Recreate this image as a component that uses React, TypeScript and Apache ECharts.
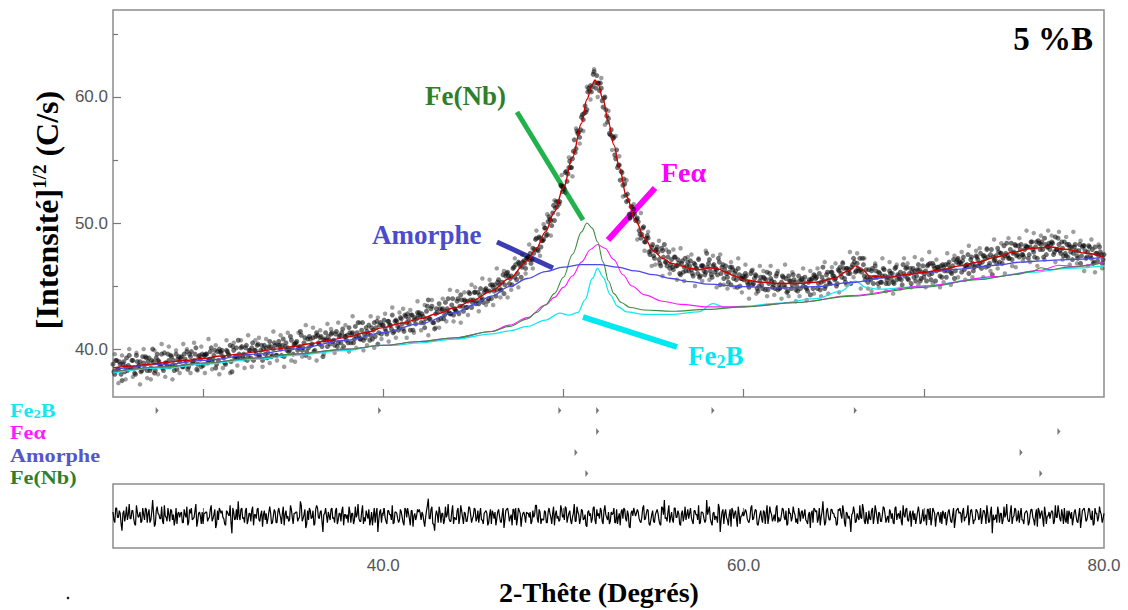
import { useEffect, useRef } from 'react';
import * as echarts from 'echarts';

// 2-theta sampling of the observed pattern (interleaved scans)
const THETA_START = 25;
const THETA_START_B = 25.05;
const THETA_START_C = 25.1;
const THETA_STEP = 0.1;
const THETA_STEP_C = 0.2;

// Observed intensity (sqrt counts), one row per degree (25.0 .. 79.9) then 80.0
const observed: number[] = [
  38.8, 38.0, 39.1, 38.4, 38.8, 37.5, 39.0, 38.6, 38.3, 39.5,
  38.5, 39.1, 38.1, 39.5, 38.6, 39.0, 38.3, 38.9, 39.4, 38.3,
  39.3, 38.5, 40.0, 38.1, 39.3, 39.1, 38.7, 39.6, 38.3, 38.9,
  38.6, 39.1, 39.5, 38.7, 38.3, 39.6, 39.2, 39.0, 39.4, 38.6,
  39.2, 39.8, 38.6, 39.4, 38.9, 39.1, 40.1, 38.8, 39.5, 38.6,
  38.7, 39.5, 39.6, 39.1, 39.8, 39.0, 39.5, 38.5, 39.8, 40.0,
  39.7, 39.4, 38.9, 39.9, 39.6, 40.3, 38.2, 39.9, 39.4, 39.3,
  39.6, 40.1, 39.4, 39.2, 40.3, 39.4, 39.9, 40.1, 39.1, 39.9,
  40.3, 39.5, 39.9, 39.1, 40.3, 40.1, 39.7, 40.6, 39.4, 40.0,
  40.3, 39.5, 40.6, 40.0, 40.3, 39.4, 40.5, 40.1, 39.9, 40.7,
  39.6, 40.4, 40.6, 40.1, 41.4, 39.9, 40.5, 39.5, 40.8, 41.0,
  40.3, 40.9, 39.9, 41.3, 40.5, 40.9, 40.2, 40.7, 41.3, 40.2,
  40.7, 41.2, 40.6, 40.3, 41.4, 40.5, 41.1, 41.3, 40.2, 41.0,
  41.1, 41.7, 40.5, 41.3, 40.8, 41.0, 42.1, 40.8, 41.5, 40.7,
  40.9, 41.4, 41.9, 41.1, 40.8, 42.1, 41.7, 40.4, 41.9, 41.2,
  41.9, 41.6, 41.2, 42.2, 41.9, 42.7, 41.4, 42.3, 41.8, 41.7,
  42.4, 41.6, 42.7, 42.1, 42.4, 41.5, 42.7, 42.3, 42.0, 42.9,
  42.9, 42.1, 42.6, 41.7, 43.0, 43.9, 42.4, 43.4, 42.1, 42.8,
  42.9, 43.6, 42.4, 43.2, 42.7, 43.0, 44.0, 42.8, 43.5, 42.7,
  43.1, 43.8, 42.8, 44.3, 43.4, 43.9, 43.3, 43.8, 44.4, 43.3,
  43.9, 44.5, 43.8, 43.6, 44.8, 44.0, 44.5, 44.8, 43.8, 44.6,
  44.0, 44.9, 45.1, 44.7, 45.5, 44.7, 45.3, 44.4, 45.8, 46.1,
  45.2, 45.8, 46.4, 45.7, 45.5, 46.9, 46.6, 46.5, 47.0, 46.4,
  47.2, 47.1, 46.8, 48.0, 47.9, 48.8, 47.8, 48.8, 48.6, 48.7,
  49.6, 49.1, 50.5, 50.2, 50.8, 50.2, 51.7, 51.7, 51.7, 52.9,
  52.9, 54.0, 53.3, 54.4, 54.4, 55.1, 56.6, 55.9, 57.1, 56.8,
  58.4, 58.2, 59.3, 59.0, 60.7, 60.9, 60.8, 62.0, 60.7, 61.1,
  60.5, 60.7, 59.2, 60.0, 58.5, 58.3, 57.0, 56.9, 56.8, 55.1,
  54.4, 54.6, 54.1, 53.0, 53.1, 51.7, 51.8, 50.4, 51.3, 51.1,
  50.2, 50.4, 49.4, 48.8, 49.6, 48.5, 48.8, 48.8, 47.5, 48.1,
  47.4, 47.8, 48.1, 47.1, 46.6, 47.8, 48.3, 46.9, 47.3, 46.4,
  47.1, 46.3, 47.3, 46.6, 46.8, 45.9, 47.0, 46.5, 46.2, 46.9,
  46.6, 46.3, 45.8, 46.7, 46.4, 47.1, 45.8, 46.6, 46.2, 46.1,
  46.5, 47.1, 45.9, 46.6, 46.1, 46.3, 47.2, 45.1, 46.5, 45.6,
  46.6, 45.7, 46.1, 45.1, 46.3, 46.0, 45.5, 46.4, 45.0, 45.6,
  45.5, 46.0, 45.3, 44.9, 46.0, 45.1, 45.6, 45.8, 44.6, 45.4,
  45.1, 45.7, 44.7, 46.1, 45.2, 45.6, 44.9, 45.3, 45.8, 44.7,
  44.8, 45.3, 45.7, 44.9, 44.5, 45.8, 45.4, 45.1, 45.5, 44.7,
  44.6, 45.4, 45.5, 45.0, 45.7, 44.8, 45.3, 44.3, 45.6, 45.9,
  45.6, 44.8, 46.0, 45.3, 46.5, 44.8, 45.9, 45.5, 45.2, 46.1,
  45.8, 45.6, 45.2, 46.2, 46.0, 46.8, 45.6, 46.4, 46.0, 46.0,
  46.5, 47.2, 46.1, 46.8, 46.2, 46.3, 47.2, 45.8, 46.3, 45.3,
  45.6, 46.2, 45.2, 46.6, 45.7, 46.1, 45.3, 45.8, 46.3, 45.2,
  45.7, 46.2, 45.5, 45.3, 46.4, 45.5, 45.8, 46.1, 45.1, 46.0,
  46.4, 45.6, 46.0, 45.2, 46.4, 46.2, 45.8, 46.7, 45.4, 46.1,
  45.7, 46.2, 46.6, 45.9, 45.5, 46.8, 46.4, 46.2, 46.5, 45.8,
  45.7, 46.5, 46.7, 46.2, 46.9, 46.1, 46.6, 45.6, 46.9, 47.2,
  46.9, 46.1, 47.3, 46.6, 46.7, 46.0, 47.1, 46.8, 46.5, 47.4,
  47.1, 46.8, 46.4, 47.4, 47.2, 47.9, 46.6, 47.5, 45.9, 47.0,
  47.4, 48.0, 46.9, 47.6, 47.2, 47.4, 48.4, 47.2, 47.9, 47.1,
  47.7, 48.2, 47.5, 47.3, 48.3, 47.5, 47.9, 48.1, 47.2, 48.1,
  48.5, 47.7, 48.1, 47.2, 48.4, 48.3, 47.9, 48.8, 47.5, 48.1,
  47.9, 48.5, 47.5, 48.9, 47.9, 48.3, 47.6, 48.0, 48.5, 47.4,
  47.3, 48.1, 48.1, 47.6, 48.3, 47.4, 47.8, 46.8, 48.1, 48.2,
  47.2, 47.7, 48.1, 47.2, 46.8, 48.1, 47.6, 47.4, 47.7, 46.8,
  47.5,
];

// Second observed scan at 25.05 .. 79.95
const observedB: number[] = [
  38.2, 39.1, 38.4, 39.0, 38.0, 38.8, 38.2, 39.3, 38.7, 38.5,
  39.1, 38.5, 38.0, 39.0, 38.7, 38.2, 39.4, 38.5, 39.3, 39.0,
  38.3, 39.1, 39.0, 38.3, 39.6, 39.0, 38.7, 38.5, 39.7, 38.9,
  39.6, 38.6, 39.4, 39.1, 38.7, 38.4, 39.4, 39.3, 38.6, 39.6,
  39.0, 38.4, 39.6, 39.8, 39.0, 39.6, 38.4, 39.4, 39.2, 39.6,
  39.5, 39.6, 38.9, 39.2, 40.1, 39.2, 39.9, 38.8, 39.1, 39.8,
  39.9, 39.3, 38.8, 39.8, 39.5, 39.0, 40.2, 39.3, 40.1, 40.7,
  39.3, 40.2, 39.6, 40.1, 39.1, 39.9, 39.3, 40.5, 39.9, 39.6,
  40.4, 39.4, 40.3, 40.0, 39.6, 39.3, 40.2, 40.2, 39.5, 40.5,
  39.5, 40.3, 40.3, 39.5, 40.8, 40.2, 39.9, 39.8, 41.0, 40.1,
  40.4, 40.5, 39.9, 40.2, 41.1, 40.1, 40.9, 39.8, 40.1, 40.8,
  40.4, 39.8, 41.0, 41.1, 40.4, 41.0, 39.4, 40.8, 40.7, 41.0,
  40.4, 41.3, 40.7, 41.2, 40.2, 41.0, 40.5, 41.6, 41.0, 40.7,
  40.5, 41.3, 41.2, 40.5, 41.8, 41.3, 41.0, 40.8, 42.1, 41.2,
  41.7, 41.2, 40.7, 41.7, 41.5, 41.0, 42.2, 41.3, 42.1, 41.9,
  42.3, 41.4, 42.2, 41.9, 41.6, 41.3, 42.2, 42.2, 41.5, 42.5,
  42.0, 41.4, 42.6, 42.8, 42.0, 42.7, 41.5, 42.5, 42.4, 42.7,
  42.6, 42.8, 42.1, 42.4, 43.4, 42.4, 43.2, 42.1, 41.6, 43.2,
  42.3, 43.2, 43.1, 42.4, 43.7, 43.2, 42.9, 42.8, 44.0, 43.2,
  43.0, 44.0, 43.4, 43.9, 43.0, 43.8, 43.3, 44.5, 43.9, 43.7,
  44.5, 43.6, 44.5, 44.3, 43.9, 43.7, 44.7, 44.6, 44.0, 45.1,
  45.1, 44.6, 44.2, 45.3, 45.1, 44.7, 45.9, 45.1, 46.0, 45.8,
  45.6, 45.1, 46.5, 46.7, 46.0, 46.8, 45.7, 46.9, 46.8, 47.2,
  47.3, 47.6, 47.1, 47.6, 48.7, 47.9, 48.9, 48.1, 48.6, 49.6,
  49.0, 50.1, 50.3, 49.8, 51.4, 51.2, 51.3, 51.5, 53.0, 52.5,
  52.7, 54.1, 53.9, 54.9, 54.4, 55.7, 55.6, 57.3, 57.2, 57.4,
  58.6, 58.7, 58.8, 60.4, 60.5, 60.4, 61.8, 61.1, 61.7, 61.1,
  61.1, 59.7, 59.9, 59.0, 58.0, 57.1, 57.4, 56.7, 55.4, 55.8,
  54.6, 53.4, 54.0, 53.5, 52.2, 52.3, 50.7, 51.3, 50.7, 50.7,
  50.3, 50.1, 49.1, 49.1, 49.7, 48.5, 49.0, 47.7, 47.8, 48.3,
  47.2, 47.9, 47.7, 46.8, 48.0, 47.3, 46.9, 46.6, 47.7, 46.7,
  46.5, 47.3, 46.6, 47.1, 46.0, 46.8, 46.1, 47.2, 46.6, 46.2,
  47.0, 46.0, 46.8, 46.4, 46.0, 45.7, 46.6, 46.6, 45.9, 47.6,
  46.8, 46.2, 45.7, 46.7, 46.4, 45.9, 46.9, 46.0, 46.7, 46.3,
  46.0, 45.3, 46.5, 46.5, 45.6, 46.2, 44.9, 45.9, 45.6, 45.8,
  45.7, 45.8, 45.1, 45.3, 46.2, 45.2, 45.9, 44.8, 45.0, 45.7,
  44.8, 45.6, 45.5, 44.7, 46.0, 45.4, 45.1, 44.8, 46.0, 45.1,
  44.9, 45.8, 45.1, 45.6, 44.6, 45.4, 44.8, 45.9, 45.3, 45.0,
  45.8, 44.8, 45.6, 45.3, 44.9, 44.6, 45.5, 45.5, 44.8, 45.8,
  45.7, 45.2, 44.7, 45.7, 45.4, 45.0, 46.1, 45.2, 46.1, 45.8,
  45.5, 45.0, 46.3, 46.5, 45.7, 46.4, 45.3, 46.4, 46.3, 45.2,
  46.7, 46.9, 46.2, 46.4, 47.2, 46.1, 46.7, 45.5, 45.7, 46.3,
  45.5, 46.4, 45.7, 46.2, 45.2, 46.0, 45.3, 46.4, 45.8, 45.5,
  45.2, 46.0, 46.0, 45.2, 46.5, 45.9, 45.6, 45.5, 46.7, 45.8,
  46.5, 45.5, 46.4, 46.1, 45.7, 45.4, 46.3, 46.3, 45.6, 46.6,
  46.0, 45.4, 46.7, 46.8, 46.0, 46.6, 45.4, 46.5, 46.3, 46.6,
  46.7, 46.2, 45.7, 46.7, 46.4, 46.0, 47.1, 46.2, 47.1, 46.8,
  46.8, 47.0, 46.3, 46.6, 47.5, 46.6, 47.3, 46.2, 46.6, 47.3,
  46.6, 47.6, 46.9, 47.4, 46.5, 47.3, 46.8, 47.9, 47.3, 47.1,
  46.8, 47.7, 47.6, 46.8, 48.2, 47.6, 47.4, 47.2, 48.4, 47.6,
  48.3, 47.4, 48.2, 47.9, 47.5, 47.3, 48.2, 48.1, 47.5, 48.5,
  47.9, 47.3, 48.5, 48.6, 47.9, 48.5, 47.3, 48.3, 48.1, 48.4,
  48.3, 48.4, 47.7, 47.9, 48.8, 47.8, 48.5, 47.4, 47.6, 48.3,
  48.3, 47.7, 47.1, 48.1, 47.8, 47.2, 48.3, 47.4, 48.2, 47.8,
  47.3, 48.2, 47.4, 47.9, 46.9, 47.6, 47.0, 48.1, 47.5, 47.1,
];

// Third observed scan (outer scatter) at 25.1 .. 79.9, 0.2° step, one row per 2°
const observedC: number[] = [
  39.6, 37.3, 39.5, 37.6, 40.0, 37.8, 39.7, 37.2, 40.0, 37.7,
  37.6, 39.9, 38.0, 40.4, 37.8, 40.2, 37.6, 39.9, 38.1, 40.4,
  40.0, 38.1, 40.5, 38.3, 40.2, 38.1, 40.8, 38.4, 40.3, 38.0,
  38.5, 40.7, 38.1, 40.5, 38.7, 40.7, 38.5, 41.1, 38.6, 40.7,
  40.9, 38.6, 40.8, 38.9, 41.4, 39.1, 41.1, 38.6, 41.3, 39.1,
  39.0, 41.3, 39.4, 41.9, 39.3, 41.7, 39.1, 41.5, 39.6, 42.0,
  41.6, 39.7, 42.1, 40.0, 41.9, 39.8, 42.6, 40.1, 42.1, 39.9,
  40.3, 42.6, 40.1, 42.5, 40.8, 42.8, 40.6, 43.3, 40.9, 42.9,
  43.2, 40.9, 43.1, 41.3, 43.8, 41.5, 43.5, 41.1, 43.9, 41.7,
  41.7, 44.0, 42.2, 44.7, 42.2, 44.6, 42.1, 44.5, 42.7, 45.1,
  44.9, 43.0, 45.6, 43.5, 45.5, 43.5, 46.4, 44.1, 46.2, 44.1,
  44.7, 47.2, 44.9, 47.5, 46.0, 48.3, 46.4, 49.4, 47.4, 49.9,
  50.7, 49.0, 51.8, 50.7, 53.8, 52.4, 55.2, 53.7, 57.5, 56.3,
  57.3, 60.8, 59.8, 62.2, 60.0, 61.5, 57.8, 58.9, 55.8, 56.9,
  55.3, 52.1, 53.4, 50.4, 51.5, 48.7, 50.8, 47.8, 49.3, 46.6,
  46.7, 48.6, 45.8, 47.9, 46.0, 47.9, 45.5, 48.0, 45.4, 47.3,
  47.5, 45.0, 47.2, 45.4, 47.8, 45.5, 47.4, 44.9, 47.5, 45.1,
  44.8, 46.9, 44.9, 47.2, 44.5, 46.7, 44.0, 46.3, 44.4, 46.6,
  46.2, 44.2, 46.6, 44.3, 46.2, 44.0, 46.7, 44.2, 46.1, 43.8,
  44.2, 46.4, 43.9, 46.2, 44.4, 46.4, 44.2, 46.9, 44.4, 46.5,
  46.8, 44.5, 46.9, 45.1, 47.7, 45.7, 47.6, 44.8, 47.2, 44.8,
  44.6, 46.8, 44.9, 47.2, 44.6, 46.9, 44.4, 46.7, 44.8, 47.2,
  46.8, 44.9, 47.3, 45.1, 47.1, 44.9, 47.7, 45.2, 47.1, 44.9,
  45.3, 47.6, 45.1, 47.4, 45.7, 47.7, 45.5, 48.2, 45.7, 47.8,
  48.0, 45.7, 48.0, 46.2, 48.7, 46.4, 48.4, 46.0, 48.8, 46.6,
  46.5, 48.8, 47.0, 49.4, 46.9, 49.2, 46.6, 49.0, 47.1, 49.4,
  49.0, 46.9, 49.3, 47.1, 48.9, 46.7, 49.3, 46.8, 48.6, 46.2,
  46.6, 48.7, 46.1, 48.3, 46.4,
];

// Difference curve (observed - calculated) for the first scan
const residual: number[] = [
  0.3, -0.5, 0.6, -0.1, 0.2, -1.1, 0.4, 0.0, -0.3, 0.9,
  -0.2, 0.4, -0.6, 0.8, -0.1, 0.3, -0.4, 0.1, 0.6, -0.5,
  0.5, -0.3, 1.2, -0.8, 0.4, 0.2, -0.2, 0.7, -0.6, 0.0,
  -0.4, 0.1, 0.5, -0.3, -0.7, 0.6, 0.2, -0.1, 0.3, -0.5,
  0.1, 0.7, -0.5, 0.2, -0.3, -0.1, 0.9, -0.4, 0.3, -0.6,
  -0.6, 0.2, 0.3, -0.2, 0.5, -0.4, 0.1, -0.9, 0.4, 0.6,
  0.2, -0.1, -0.6, 0.4, 0.1, 0.8, -1.3, 0.3, -0.2, -0.3,
  0.0, 0.5, -0.2, -0.5, 0.6, -0.3, 0.2, 0.4, -0.7, 0.1,
  0.5, -0.3, 0.1, -0.8, 0.4, 0.2, -0.2, 0.7, -0.6, 0.0,
  0.3, -0.5, 0.6, -0.1, 0.2, -0.7, 0.4, 0.0, -0.3, 0.5,
  -0.6, 0.2, 0.3, -0.2, 1.1, -0.4, 0.1, -0.9, 0.4, 0.6,
  -0.2, 0.4, -0.6, 0.8, -0.1, 0.3, -0.4, 0.1, 0.6, -0.5,
  0.0, 0.5, -0.2, -0.5, 0.6, -0.3, 0.2, 0.4, -0.7, 0.1,
  0.1, 0.7, -0.5, 0.2, -0.3, -0.1, 0.9, -0.4, 0.3, -0.6,
  -0.4, 0.1, 0.5, -0.3, -0.7, 0.6, 0.2, -1.2, 0.3, -0.5,
  0.2, -0.1, -0.6, 0.4, 0.1, 0.8, -0.5, 0.3, -0.2, -0.3,
  0.3, -0.5, 0.6, -0.1, 0.2, -0.7, 0.4, 0.0, -0.3, 0.5,
  0.5, -0.3, 0.1, -0.8, 0.4, 1.3, -0.2, 0.7, -0.6, 0.0,
  0.1, 0.7, -0.5, 0.2, -0.3, -0.1, 0.9, -0.4, 0.3, -0.6,
  -0.2, 0.4, -0.6, 0.8, -0.1, 0.3, -0.4, 0.1, 0.6, -0.5,
  0.0, 0.5, -0.2, -0.5, 0.6, -0.3, 0.2, 0.4, -0.7, 0.1,
  -0.6, 0.2, 0.3, -0.2, 0.5, -0.4, 0.1, -0.9, 0.4, 0.6,
  -0.4, 0.1, 0.5, -0.3, -0.7, 0.6, 0.2, -0.1, 0.3, -0.5,
  0.2, -0.1, -0.6, 0.4, 0.1, 0.8, -0.5, 0.3, -0.2, -0.3,
  0.3, -0.5, 0.6, -0.1, 0.2, -0.7, 0.4, 0.0, -0.3, 0.5,
  0.1, 0.7, -0.5, 0.2, -0.3, -0.1, 0.9, -0.4, 0.3, -0.6,
  0.5, -0.3, 0.1, -0.8, 0.4, 0.2, -0.2, 0.7, -0.6, 0.0,
  -0.2, 0.4, -0.6, 0.8, -0.1, 0.3, -0.4, 0.1, 0.6, -0.5,
  -0.6, 0.2, 0.3, -0.2, 0.5, -0.4, 0.1, -0.9, 0.4, 0.6,
  0.0, 0.5, -0.2, -0.5, 0.6, -0.3, 0.2, 0.4, -0.7, 0.1,
  -0.4, 0.1, 0.5, -0.3, -0.7, 0.6, 1.2, -0.1, 0.3, -0.5,
  0.3, -0.5, 0.6, -0.1, 0.2, -0.7, 0.4, 0.0, -0.3, 0.5,
  0.2, -0.1, -0.6, 0.4, 0.1, 0.8, -0.5, 0.3, -0.2, -0.3,
  0.1, 0.7, -0.5, 0.2, -0.3, -0.1, 0.9, -1.2, 0.3, -0.6,
  0.5, -0.3, 0.1, -0.8, 0.4, 0.2, -0.2, 0.7, -0.6, 0.0,
  0.0, 0.5, -0.2, -0.5, 0.6, -0.3, 0.2, 0.4, -0.7, 0.1,
  -0.2, 0.4, -0.6, 0.8, -0.1, 0.3, -0.4, 0.1, 0.6, -0.5,
  -0.4, 0.1, 0.5, -0.3, -0.7, 0.6, 0.2, -0.1, 0.3, -0.5,
  -0.6, 0.2, 0.3, -0.2, 0.5, -0.4, 0.1, -0.9, 0.4, 0.6,
  0.3, -0.5, 0.6, -0.1, 1.1, -0.7, 0.4, 0.0, -0.3, 0.5,
  0.2, -0.1, -0.6, 0.4, 0.1, 0.8, -0.5, 0.3, -0.2, -0.3,
  0.1, 0.7, -0.5, 0.2, -0.3, -0.1, 0.9, -0.4, 0.3, -0.6,
  -0.2, 0.4, -0.6, 0.8, -0.1, 0.3, -0.4, 0.1, 0.6, -0.5,
  0.0, 0.5, -0.2, -0.5, 0.6, -0.3, 0.2, 0.4, -0.7, 0.1,
  0.5, -0.3, 0.1, -0.8, 0.4, 0.2, -0.2, 0.7, -0.6, 0.0,
  -0.4, 0.1, 0.5, -0.3, -0.7, 0.6, 0.2, -0.1, 0.3, -0.5,
  -0.6, 0.2, 0.3, -0.2, 0.5, -0.4, 0.1, -0.9, 0.4, 0.6,
  0.3, -0.5, 0.6, -0.1, 0.2, -0.7, 0.4, 0.0, -0.3, 0.5,
  0.2, -0.1, -0.6, 0.4, 0.1, 0.8, -0.5, 0.3, -1.3, -0.3,
  0.1, 0.7, -0.5, 0.2, -0.3, -0.1, 0.9, -0.4, 0.3, -0.6,
  0.0, 0.5, -0.2, -0.5, 0.6, -0.3, 0.2, 0.4, -0.7, 0.1,
  0.5, -0.3, 0.1, -0.8, 0.4, 0.2, -0.2, 0.7, -0.6, 0.0,
  -0.2, 0.4, -0.6, 0.8, -0.1, 0.3, -0.4, 0.1, 0.6, -0.5,
  -0.6, 0.2, 0.3, -0.2, 0.5, -0.4, 0.1, -0.9, 0.4, 0.6,
  -0.4, 0.1, 0.5, -0.3, -0.7, 0.6, 0.2, -0.1, 0.3, -0.5,
  0.2,
];

// Difference curve for the second scan (25.05 .. 79.95)
const residualB: number[] = [
  -0.3, 0.6, -0.1, 0.4, -0.6, 0.2, -0.4, 0.7, 0.1, -0.2,
  0.4, -0.2, -0.7, 0.3, 0.0, -0.5, 0.6, -0.3, 0.5, 0.2,
  -0.5, 0.3, 0.2, -0.6, 0.7, 0.1, -0.2, -0.4, 0.8, -0.1,
  0.6, -0.4, 0.4, 0.1, -0.3, -0.6, 0.3, 0.2, -0.5, 0.5,
  -0.1, -0.7, 0.5, 0.6, -0.2, 0.4, -0.8, 0.2, 0.0, 0.3,
  0.2, 0.3, -0.4, -0.1, 0.8, -0.2, 0.5, -0.6, -0.3, 0.4,
  0.4, -0.2, -0.7, 0.3, 0.0, -0.5, 0.6, -0.3, 0.5, 1.1,
  -0.3, 0.6, -0.1, 0.4, -0.6, 0.2, -0.4, 0.7, 0.1, -0.2,
  0.6, -0.4, 0.4, 0.1, -0.3, -0.6, 0.3, 0.2, -0.5, 0.5,
  -0.5, 0.3, 0.2, -0.6, 0.7, 0.1, -0.2, -0.4, 0.8, -0.1,
  0.2, 0.3, -0.4, -0.1, 0.8, -0.2, 0.5, -0.6, -0.3, 0.4,
  -0.1, -0.7, 0.5, 0.6, -0.2, 0.4, -1.2, 0.2, 0.0, 0.3,
  -0.3, 0.6, -0.1, 0.4, -0.6, 0.2, -0.4, 0.7, 0.1, -0.2,
  -0.5, 0.3, 0.2, -0.6, 0.7, 0.1, -0.2, -0.4, 0.8, -0.1,
  0.4, -0.2, -0.7, 0.3, 0.0, -0.5, 0.6, -0.3, 0.5, 0.2,
  0.6, -0.4, 0.4, 0.1, -0.3, -0.6, 0.3, 0.2, -0.5, 0.5,
  -0.1, -0.7, 0.5, 0.6, -0.2, 0.4, -0.8, 0.2, 0.0, 0.3,
  0.2, 0.3, -0.4, -0.1, 0.8, -0.2, 0.5, -0.6, -1.1, 0.4,
  -0.5, 0.3, 0.2, -0.6, 0.7, 0.1, -0.2, -0.4, 0.8, -0.1,
  -0.3, 0.6, -0.1, 0.4, -0.6, 0.2, -0.4, 0.7, 0.1, -0.2,
  0.6, -0.4, 0.4, 0.1, -0.3, -0.6, 0.3, 0.2, -0.5, 0.5,
  0.4, -0.2, -0.7, 0.3, 0.0, -0.5, 0.6, -0.3, 0.5, 0.2,
  -0.1, -0.7, 0.5, 0.6, -0.2, 0.4, -0.8, 0.2, 0.0, 0.3,
  0.2, 0.3, -0.4, -0.1, 0.8, -0.2, 0.5, -0.6, -0.3, 0.4,
  -0.5, 0.3, 0.2, -0.6, 0.7, 0.1, -0.2, -0.4, 0.8, -0.1,
  -0.3, 0.6, -0.1, 0.4, -0.6, 0.2, -0.4, 0.7, 0.1, -0.2,
  0.4, -0.2, -0.7, 0.3, 0.0, -0.5, 0.6, -0.3, 0.5, 0.2,
  0.6, -0.4, 0.4, 0.1, -0.3, -0.6, 0.3, 0.2, -0.5, 0.5,
  -0.1, -0.7, 0.5, 0.6, -0.2, 0.4, -0.8, 0.2, 0.0, 0.3,
  0.2, 0.3, -0.4, -0.1, 0.8, -0.2, 0.5, -0.6, -0.3, 0.4,
  -0.5, 0.3, 0.2, -0.6, 0.7, 0.1, -0.2, -0.4, 0.8, -0.1,
  -0.3, 0.6, -0.1, 0.4, -0.6, 0.2, -0.4, 0.7, 0.1, -0.2,
  0.6, -0.4, 0.4, 0.1, -0.3, -0.6, 0.3, 0.2, -0.5, 1.2,
  0.4, -0.2, -0.7, 0.3, 0.0, -0.5, 0.6, -0.3, 0.5, 0.2,
  -0.1, -0.7, 0.5, 0.6, -0.2, 0.4, -0.8, 0.2, 0.0, 0.3,
  0.2, 0.3, -0.4, -0.1, 0.8, -0.2, 0.5, -0.6, -0.3, 0.4,
  -0.5, 0.3, 0.2, -0.6, 0.7, 0.1, -0.2, -0.4, 0.8, -0.1,
  -0.3, 0.6, -0.1, 0.4, -0.6, 0.2, -0.4, 0.7, 0.1, -0.2,
  0.6, -0.4, 0.4, 0.1, -0.3, -0.6, 0.3, 0.2, -0.5, 0.5,
  0.4, -0.2, -0.7, 0.3, 0.0, -0.5, 0.6, -0.3, 0.5, 0.2,
  -0.1, -0.7, 0.5, 0.6, -0.2, 0.4, -0.8, 0.2, 0.0, -1.2,
  0.2, 0.3, -0.4, -0.1, 0.8, -0.2, 0.5, -0.6, -0.3, 0.4,
  -0.3, 0.6, -0.1, 0.4, -0.6, 0.2, -0.4, 0.7, 0.1, -0.2,
  -0.5, 0.3, 0.2, -0.6, 0.7, 0.1, -0.2, -0.4, 0.8, -0.1,
  0.6, -0.4, 0.4, 0.1, -0.3, -0.6, 0.3, 0.2, -0.5, 0.5,
  -0.1, -0.7, 0.5, 0.6, -0.2, 0.4, -0.8, 0.2, 0.0, 0.3,
  0.4, -0.2, -0.7, 0.3, 0.0, -0.5, 0.6, -0.3, 0.5, 0.2,
  0.2, 0.3, -0.4, -0.1, 0.8, -0.2, 0.5, -0.6, -0.3, 0.4,
  -0.3, 0.6, -0.1, 0.4, -0.6, 0.2, -0.4, 0.7, 0.1, -0.2,
  -0.5, 0.3, 0.2, -0.6, 0.7, 0.1, -0.2, -0.4, 0.8, -0.1,
  0.6, -0.4, 0.4, 0.1, -0.3, -0.6, 0.3, 0.2, -0.5, 0.5,
  -0.1, -0.7, 0.5, 0.6, -0.2, 0.4, -0.8, 0.2, 0.0, 0.3,
  0.2, 0.3, -0.4, -0.1, 0.8, -0.2, 0.5, -0.6, -0.3, 0.4,
  0.4, -0.2, -0.7, 0.3, 0.0, -0.5, 0.6, -0.3, 0.5, 0.2,
  -0.3, 0.6, -0.1, 0.4, -0.6, 0.2, -0.4, 0.7, 0.1, -0.2,
];

// Calculated profile (red) and phase contributions, [2θ, intensity]
const calcCurve: [number, number][] = [
  [25, 38.5], [26, 38.65], [27, 38.8], [28, 38.95], [29, 39.1], [30, 39.25], [31, 39.45], [32, 39.6],
  [33, 39.8], [34, 40.0], [35, 40.2], [36, 40.45], [37, 40.7], [38, 40.95], [39, 41.3], [40, 41.7],
  [41, 42.05], [42, 42.4], [43, 42.8], [44, 43.3], [45, 43.9], [46, 44.6], [47, 45.6], [48, 47.0],
  [48.5, 48.0], [49, 49.3], [49.5, 50.9], [50, 52.8], [50.5, 55.2], [51, 57.9], [51.3, 59.8],
  [51.6, 61.0], [51.75, 61.35], [51.9, 61.1], [52.2, 59.8], [52.5, 58.0], [52.8, 56.2], [53.1, 54.4],
  [53.5, 52.1], [54, 50.2], [54.5, 48.8], [55, 47.8], [55.5, 47.2], [56, 46.8], [56.5, 46.6],
  [57, 46.4], [57.5, 46.3], [58.1, 46.45], [58.6, 46.35], [59, 46.1], [59.5, 45.8], [60, 45.5],
  [61, 45.3], [62, 45.2], [63, 45.2], [64, 45.3], [65, 45.6], [65.8, 46.2], [66.2, 46.6], [66.6, 46.3],
  [67, 45.8], [68, 45.7], [69, 45.9], [70, 46.1], [71, 46.3], [72, 46.6], [73, 46.9], [74, 47.3],
  [75, 47.7], [76, 48.0], [77, 48.1], [78, 47.9], [79, 47.6], [80, 47.3],
];

const amorpheCurve: [number, number][] = [
  [25, 38.35], [28, 38.8], [30, 39.1], [33, 39.6], [35, 40.0], [38, 40.7], [40, 41.3], [42, 42.0],
  [44, 42.9], [45, 43.5], [46, 44.2], [47, 44.95], [48, 45.6], [49, 46.15], [50, 46.5], [51, 46.7],
  [52, 46.7], [53, 46.5], [54, 46.2], [55, 45.9], [56, 45.6], [57, 45.35], [58, 45.15], [60, 44.95],
  [62, 44.85], [64, 44.95], [66, 45.3], [68, 45.7], [70, 46.05], [72, 46.35], [74, 46.65],
  [75.4, 46.9], [76.5, 47.0], [78, 47.1], [80, 47.25],
];

const feNbCurve: [number, number][] = [
  [25, 38.2], [28, 38.6], [30, 38.9], [33, 39.3], [35, 39.6], [38, 40.0], [40, 40.3], [42, 40.6],
  [44, 40.9], [46, 41.4], [47, 41.8], [48, 42.4], [48.5, 42.9], [49, 43.5], [49.5, 44.4], [50, 45.7],
  [50.5, 47.5], [51, 49.3], [51.3, 50.0], [51.6, 49.6], [51.9, 48.5], [52.2, 46.9], [52.5, 45.4],
  [52.8, 44.4], [53.2, 43.7], [53.7, 43.3], [54.5, 43.1], [56, 43.0], [58, 43.15], [60, 43.35],
  [63, 43.7], [66, 44.2], [70, 44.9], [73, 45.5], [75, 45.9], [76, 46.15], [76.5, 46.45], [77, 46.3],
  [78, 46.5], [80, 46.85],
];

const feAlphaCurve: [number, number][] = [
  [25, 38.2], [28, 38.6], [30, 38.9], [33, 39.3], [35, 39.6], [38, 40.0], [40, 40.3], [42, 40.6],
  [44, 40.9], [46, 41.4], [47, 41.9], [48, 42.5], [49, 43.5], [49.5, 44.1], [50, 44.9], [50.5, 45.8],
  [51, 46.9], [51.5, 47.9], [51.9, 48.3], [52.3, 48.0], [52.8, 47.1], [53.3, 45.9], [53.8, 45.0],
  [54.5, 44.3], [55.5, 43.8], [56.5, 43.55], [58, 43.35], [60, 43.35], [63, 43.7], [66, 44.25],
  [70, 45.0], [74, 45.75], [76.5, 46.25], [77.5, 46.65], [78.3, 46.55], [80, 46.9],
];

const fe2bCurve: [number, number][] = [
  [25, 38.1], [27.45, 38.5], [28, 38.5], [30, 38.8], [33, 39.2], [35, 39.5], [38, 39.9], [39.8, 40.3],
  [40.5, 40.3], [42, 40.5], [44, 40.8], [46, 41.2], [47, 41.45], [48, 41.8], [49, 42.3], [49.8, 42.85],
  [50.3, 42.7], [50.8, 42.9], [51.2, 43.9], [51.6, 45.6], [51.9, 46.4], [52.2, 45.7], [52.6, 44.3],
  [53, 43.4], [53.5, 42.95], [54.5, 42.75], [56, 42.75], [57.5, 42.95], [58.3, 43.6], [59, 43.3],
  [60, 43.4], [62, 43.65], [64, 44.0], [65.4, 44.6], [66.2, 45.4], [66.8, 44.9], [67.5, 44.75],
  [70, 45.0], [73, 45.55], [76, 46.1], [78, 46.4], [80, 46.6],
];

// Bragg reflection positions (2θ) per phase
const phaseRows = ['Fe(Nb)', 'Amorphe', 'Feα', 'Fe2B'];
const reflFe2B = [27.45, 39.8, 49.8, 51.9, 58.3, 66.2];
const reflFeAlpha = [51.9, 77.5];
const reflAmorphe = [50.7, 75.4];
const reflFeNb = [51.3, 76.5];

// Axis ticks / labels
const xTickValues = [30, 40, 50, 60, 70];
const xLabelValues = [40, 60, 80];
const yMajorValues = [40, 50, 60];
const yMinorValues = [45, 55, 65];

const SERIF = '"Liberation Serif", "Times New Roman", serif';
const SANS = '"Liberation Sans", Arial, sans-serif';

const C_CYAN = '#14e8ee';
const C_MAG = '#ff1aff';
const C_BLUE = '#4b4bd0';
const C_GREEN = '#2f7f2a';

export default function App() {
  const ref = useRef<HTMLDivElement>(null);

  useEffect(() => {
    if (!ref.current) return;
    const chart = echarts.init(ref.current, undefined, { renderer: 'svg' });
    const at = (start: number, step: number, i: number) => Math.round((start + i * step) * 100) / 100;
    const obsPairs = [
      ...observed.map((v, i) => [at(THETA_START, THETA_STEP, i), v]),
      ...observedB.map((v, i) => [at(THETA_START_B, THETA_STEP, i), v]),
    ];
    const obsOuterPairs = observedC.map((v, i) => [at(THETA_START_C, THETA_STEP_C, i), v]);
    const resPairs = [
      ...residual.map((v, i) => [at(THETA_START, THETA_STEP, i), v]),
      ...residualB.map((v, i) => [at(THETA_START_B, THETA_STEP, i), v]),
    ].sort((a, b) => a[0] - b[0]);
    const refl = (xs: number[], row: string) => xs.map((x) => [x, row]);
    const tickStyle = { color: '#777', width: 1.2 };
    const lineSeries = (data: [number, number][], color: string, width: number, z: number) => ({
      type: 'line',
      xAxisIndex: 0,
      yAxisIndex: 0,
      data,
      smooth: 0.35,
      smoothMonotone: 'x',
      showSymbol: false,
      symbol: 'none',
      silent: true,
      z,
      lineStyle: { color, width },
    });
    const phaseLabel = (text: string, y: number, fill: string) => ({
      type: 'text', x: 10, y, scaleX: 1.14, silent: true,
      style: { text, font: `bold 19.5px ${SERIF}`, fill, textVerticalAlign: 'middle' },
    });

    chart.setOption({
      animation: false,
      backgroundColor: '#ffffff',
      grid: [
        { left: 113, top: 10, width: 991, height: 387, show: true, borderColor: '#8c8c8c', borderWidth: 1.5, backgroundColor: 'transparent' },
        { left: 113, top: 400, width: 991, height: 84 },
        { left: 113, top: 484, width: 991, height: 64, show: true, borderColor: '#8c8c8c', borderWidth: 1.5, backgroundColor: 'transparent' },
      ],
      xAxis: [
        {
          gridIndex: 0, type: 'value', min: 25, max: 80,
          axisLine: { show: false }, splitLine: { show: false },
          axisTick: { show: true, inside: true, length: 8, customValues: xTickValues, lineStyle: tickStyle },
          axisLabel: { show: false },
        },
        { gridIndex: 1, type: 'value', min: 25, max: 80, show: false },
        {
          gridIndex: 2, type: 'value', min: 25, max: 80,
          axisLine: { show: false }, splitLine: { show: false },
          axisTick: { show: true, inside: true, length: 8, customValues: xTickValues, lineStyle: tickStyle },
          axisLabel: {
            customValues: xLabelValues, showMaxLabel: true, showMinLabel: true,
            formatter: (v: number) => v.toFixed(1), fontSize: 17, fontFamily: SANS, color: '#555', margin: 9,
          },
        },
      ],
      yAxis: [
        {
          gridIndex: 0, type: 'value', position: 'left', min: 36.2, max: 66.9,
          axisLine: { show: false }, splitLine: { show: false },
          axisTick: { show: true, inside: true, length: 8, customValues: yMajorValues, lineStyle: tickStyle },
          axisLabel: {
            customValues: yMajorValues, formatter: (v: number) => v.toFixed(1),
            fontSize: 17, fontFamily: SANS, color: '#555', margin: 5,
          },
        },
        {
          gridIndex: 0, type: 'value', position: 'left', min: 36.2, max: 66.9,
          axisLine: { show: false }, splitLine: { show: false },
          axisTick: { show: true, inside: true, length: 5, customValues: yMinorValues, lineStyle: tickStyle },
          axisLabel: { show: false },
        },
        {
          gridIndex: 1, type: 'category', data: phaseRows, show: false,
        },
        { gridIndex: 2, type: 'value', min: -2.4, max: 2.4, show: false },
      ],
      series: [
        {
          type: 'scatter', xAxisIndex: 0, yAxisIndex: 0, data: obsOuterPairs,
          symbolSize: 4.5, silent: true, z: 2, large: false,
          itemStyle: { color: 'rgba(35,35,35,0.55)' },
        },
        {
          type: 'scatter', xAxisIndex: 0, yAxisIndex: 0, data: obsPairs,
          symbolSize: 5, silent: true, z: 2, large: false,
          itemStyle: { color: 'rgba(10,10,10,0.72)' },
        },
        lineSeries(fe2bCurve, C_CYAN, 1.3, 3),
        lineSeries(feAlphaCurve, C_MAG, 1.1, 3),
        lineSeries(feNbCurve, '#3c8c3c', 1.1, 3),
        lineSeries(amorpheCurve, '#4a4ae6', 1.3, 4),
        lineSeries(calcCurve, '#cc0000', 1.4, 5),
        ...[
          [reflFe2B, 'Fe2B'],
          [reflFeAlpha, 'Feα'],
          [reflAmorphe, 'Amorphe'],
          [reflFeNb, 'Fe(Nb)'],
        ].map(([xs, row]) => ({
          type: 'scatter', xAxisIndex: 1, yAxisIndex: 2,
          data: refl(xs as number[], row as string),
          symbol: 'path://M0,0L8,5L0,10Z', symbolSize: [3, 7], silent: true,
          itemStyle: { color: '#555' },
        })),
        {
          type: 'line', xAxisIndex: 2, yAxisIndex: 3, data: resPairs,
          showSymbol: false, symbol: 'none', silent: true,
          lineStyle: { color: '#000', width: 1.2 },
        },
      ],
      graphic: [
        {
          type: 'text', x: 10, y: 410, scaleX: 1.14, silent: true,
          style: {
            text: '{c|Fe}{s|2}{c|B}', textVerticalAlign: 'middle',
            rich: {
              c: { fontSize: 19.5, fontWeight: 'bold', fontFamily: SERIF, fill: C_CYAN, lineHeight: 20 },
              s: { fontSize: 13, fontWeight: 'bold', fontFamily: SERIF, fill: C_CYAN, lineHeight: 13, verticalAlign: 'bottom' },
            },
          },
        },
        phaseLabel('Feα', 432.5, C_MAG),
        phaseLabel('Amorphe', 455, '#5656cc'),
        phaseLabel('Fe(Nb)', 477.5, C_GREEN),
        { type: 'text', x: 425, y: 96, silent: true, style: { text: 'Fe(Nb)', font: `bold 27px ${SERIF}`, fill: C_GREEN, textVerticalAlign: 'middle' } },
        { type: 'line', silent: true, shape: { x1: 517, y1: 112, x2: 583, y2: 220 }, style: { stroke: '#22b24c', lineWidth: 5 } },
        { type: 'text', x: 661, y: 172, silent: true, style: { text: 'Feα', font: `bold 28px ${SERIF}`, fill: '#ff00ff', textVerticalAlign: 'middle' } },
        { type: 'line', silent: true, shape: { x1: 655, y1: 188, x2: 608, y2: 240 }, style: { stroke: '#ff00ff', lineWidth: 6 } },
        { type: 'text', x: 372, y: 235, silent: true, style: { text: 'Amorphe', font: `bold 27px ${SERIF}`, fill: C_BLUE, textVerticalAlign: 'middle' } },
        { type: 'line', silent: true, shape: { x1: 497, y1: 242, x2: 553, y2: 268 }, style: { stroke: '#3c3cb4', lineWidth: 5 } },
        {
          type: 'text', x: 688, y: 356, silent: true,
          style: {
            text: '{a|Fe}{s|2}{a|B}', textVerticalAlign: 'middle',
            rich: {
              a: { fontSize: 27, fontWeight: 'bold', fontFamily: SERIF, fill: '#00e8f0', lineHeight: 30 },
              s: { fontSize: 18, fontWeight: 'bold', fontFamily: SERIF, fill: '#00e8f0', lineHeight: 18, verticalAlign: 'bottom' },
            },
          },
        },
        { type: 'line', silent: true, shape: { x1: 583, y1: 317, x2: 677, y2: 347 }, style: { stroke: '#00e8f0', lineWidth: 6 } },
        { type: 'text', x: 1093, y: 39, silent: true, style: { text: '5 %B', font: `bold 33px ${SERIF}`, fill: '#000', textAlign: 'right', textVerticalAlign: 'middle' } },
        {
          type: 'text', x: 47, y: 210, rotation: Math.PI / 2, silent: true,
          style: {
            text: '{a|[Intensité]}{s|1/2}{a| (C/s)}', textAlign: 'center', textVerticalAlign: 'middle',
            rich: {
              a: { fontSize: 32, fontWeight: 'bold', fontFamily: SERIF, fill: '#000', lineHeight: 34 },
              s: { fontSize: 19, fontWeight: 'bold', fontFamily: SERIF, fill: '#000', lineHeight: 19, verticalAlign: 'top' },
            },
          },
        },
        { type: 'text', x: 599, y: 592, silent: true, style: { text: '2-Thête (Degrés)', font: `bold 28px ${SERIF}`, fill: '#000', textAlign: 'center', textVerticalAlign: 'middle' } },
        { type: 'circle', silent: true, shape: { cx: 68, cy: 598, r: 1.3 }, style: { fill: '#222' } },
      ],
    });
    return () => chart.dispose();
  }, []);

  return (
    <div
      ref={ref}
      style={{ position: 'absolute', left: 0, top: 0, width: 1128, height: 610, background: '#fff' }}
    />
  );
}
